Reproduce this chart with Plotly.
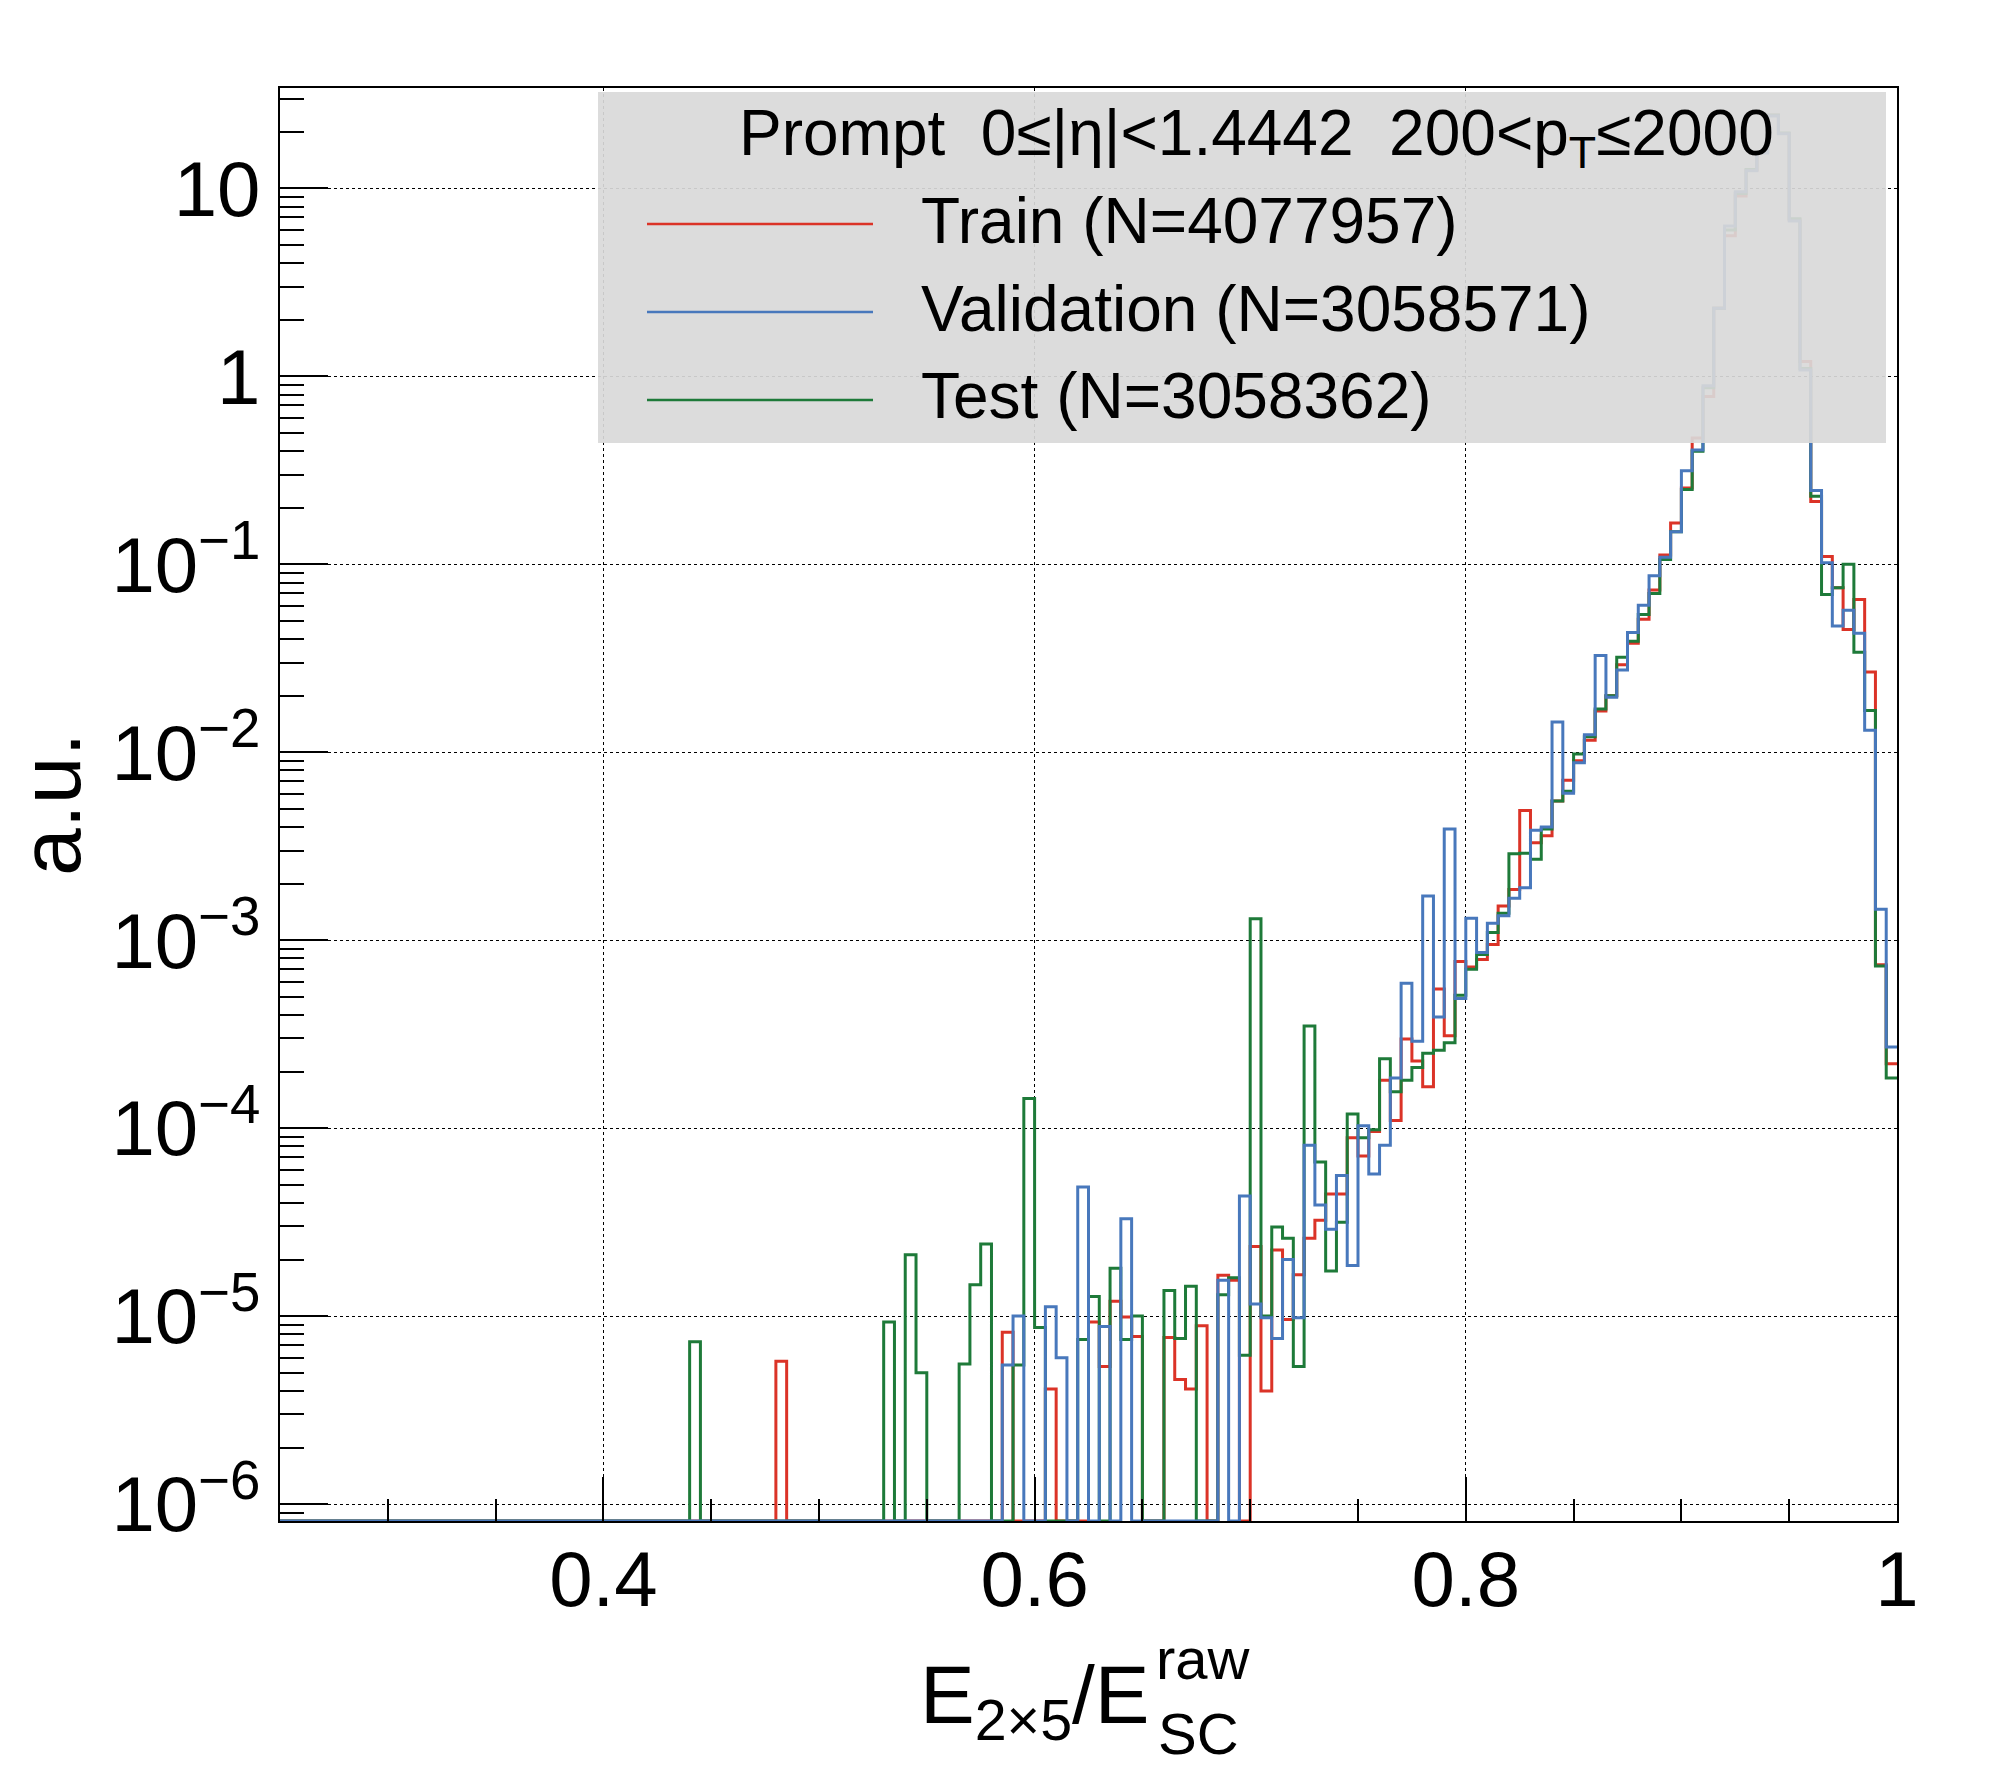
import plotly.graph_objects as go

# histogram binning: 150 bins of 0.005 between 0.25 and 1.0
x_lo = 0.25
bin_w = 0.005
n_bins = 150

# bin contents (a.u.), index 0 is the bin [0.250, 0.255)
train = [
    0, 0, 0, 0, 0, 0, 0, 0, 0, 0,
    0, 0, 0, 0, 0, 0, 0, 0, 0, 0,
    0, 0, 0, 0, 0, 0, 0, 0, 0, 0,
    0, 0, 0, 0, 0, 0, 0, 0, 0, 0,
    0, 0, 0, 0, 0, 0, 5.75e-6, 0, 0, 0,
    0, 0, 0, 0, 0, 0, 0, 0, 0, 0,
    0, 0, 0, 0, 0, 0, 0, 8.2e-6, 0, 0,
    0, 4.1e-6, 0, 0, 0, 9.3e-6, 5.4e-6, 1.2e-5, 9.9e-6, 7.8e-6,
    0, 0, 7.7e-6, 4.6e-6, 4.1e-6, 8.9e-6, 0, 1.65e-5, 1.55e-5, 0,
    2.35e-5, 4.0e-6, 2.25e-5, 9.6e-6, 1.66e-5, 2.6e-5, 3.24e-5, 4.46e-5, 4.46e-5, 8.9e-5,
    7.1e-5, 9.6e-5, 1.8e-4, 1.1e-4, 2.98e-4, 2.28e-4, 1.66e-4, 5.5e-4, 3.1e-4, 7.7e-4,
    7.2e-4, 7.9e-4, 9.5e-4, 1.52e-3, 1.86e-3, 4.9e-3, 3.3e-3, 3.6e-3, 5.5e-3, 7.1e-3,
    9.0e-3, 1.16e-2, 1.66e-2, 2.0e-2, 2.92e-2, 3.8e-2, 5.1e-2, 7.3e-2, 0.112, 0.166,
    0.255, 0.47, 0.78, 2.3, 5.6, 9.1, 12.5, 15.5, 24.5, 19.6,
    6.8, 1.2, 0.216, 0.11, 0.075, 0.045, 0.065, 0.0267, 7.4e-4, 2.2e-4,
]

validation = [
    0, 0, 0, 0, 0, 0, 0, 0, 0, 0,
    0, 0, 0, 0, 0, 0, 0, 0, 0, 0,
    0, 0, 0, 0, 0, 0, 0, 0, 0, 0,
    0, 0, 0, 0, 0, 0, 0, 0, 0, 0,
    0, 0, 0, 0, 0, 0, 0, 0, 0, 0,
    0, 0, 0, 0, 0, 0, 0, 0, 0, 0,
    0, 0, 0, 0, 0, 0, 0, 5.5e-6, 1.0e-5, 0,
    0, 1.12e-5, 6.0e-6, 0, 4.87e-5, 0, 8.8e-6, 0, 3.3e-5, 0,
    0, 0, 0, 0, 0, 0, 0, 1.55e-5, 0, 4.35e-5,
    1.16e-5, 9.8e-6, 7.6e-6, 2.0e-5, 9.8e-6, 8.1e-5, 3.9e-5, 2.9e-5, 5.6e-5, 1.86e-5,
    1.03e-4, 5.7e-5, 8.1e-5, 1.85e-4, 5.9e-4, 2.9e-4, 1.72e-3, 3.9e-4, 3.9e-3, 4.9e-4,
    1.31e-3, 8.6e-4, 1.23e-3, 1.35e-3, 1.67e-3, 1.9e-3, 3.85e-3, 4.0e-3, 1.45e-2, 6.05e-3,
    8.8e-3, 1.24e-2, 3.27e-2, 1.96e-2, 2.74e-2, 4.34e-2, 6.05e-2, 8.7e-2, 0.109, 0.149,
    0.315, 0.405, 0.89, 2.3, 6.3, 9.6, 12.4, 15.4, 24.3, 19.5,
    6.7, 1.08, 0.247, 0.102, 0.047, 0.057, 0.043, 0.0131, 1.46e-3, 2.7e-4,
]

test = [
    0, 0, 0, 0, 0, 0, 0, 0, 0, 0,
    0, 0, 0, 0, 0, 0, 0, 0, 0, 0,
    0, 0, 0, 0, 0, 0, 0, 0, 0, 0,
    0, 0, 0, 0, 0, 0, 0, 0, 7.3e-6, 0,
    0, 0, 0, 0, 0, 0, 0, 0, 0, 0,
    0, 0, 0, 0, 0, 0, 9.3e-6, 0, 2.12e-5, 5.0e-6,
    0, 0, 0, 5.56e-6, 1.47e-5, 2.42e-5, 0, 0, 5.5e-6, 1.44e-4,
    8.7e-6, 0, 0, 0, 7.5e-6, 1.27e-5, 0, 1.8e-5, 7.5e-6, 1.0e-5,
    0, 0, 1.37e-5, 7.6e-6, 1.44e-5, 0, 0, 1.3e-5, 1.6e-5, 6.2e-6,
    1.3e-3, 1.0e-5, 2.98e-5, 2.6e-5, 5.4e-6, 3.5e-4, 6.6e-5, 1.74e-5, 3.16e-5, 1.19e-4,
    8.9e-5, 9.8e-5, 2.34e-4, 1.56e-4, 1.8e-4, 2.1e-4, 2.5e-4, 2.6e-4, 2.85e-4, 5.1e-4,
    7.0e-4, 8.4e-4, 1.1e-3, 1.39e-3, 2.88e-3, 2.9e-3, 2.7e-3, 3.9e-3, 5.5e-3, 6.2e-3,
    9.8e-3, 1.21e-2, 1.7e-2, 2.0e-2, 3.2e-2, 3.9e-2, 5.4e-2, 7.0e-2, 0.106, 0.149,
    0.25, 0.40, 0.87, 2.3, 6.0, 9.4, 12.6, 15.6, 24.6, 19.7,
    6.9, 1.1, 0.23, 0.069, 0.075, 0.1, 0.034, 0.0167, 7.3e-4, 1.85e-4,
]

labels = ["Train (N=4077957)", "Validation (N=3058571)", "Test (N=3058362)"]
colors = ["#db3327", "#4878bc", "#1e7a39"]

y_tick_vals = [1e-6, 1e-5, 1e-4, 1e-3, 1e-2, 1e-1, 1, 10]
y_tick_text = ["10<sup>\u22126</sup>", "10<sup>\u22125</sup>", "10<sup>\u22124</sup>",
               "10<sup>\u22123</sup>", "10<sup>\u22122</sup>", "10<sup>\u22121</sup>", "1", "10"]
x_tick_vals = [0.4, 0.6, 0.8, 1.0]
x_tick_text = ["0.4", "0.6", "0.8", "1"]

y_min_log = -6.09
y_max_log = 1.534
floor = 10 ** y_min_log

W, H = 1996, 1772
L, R, T, B = 280, 1897, 88, 1521   # plot frame in page pixels
OFF = 8                             # page body margin
FONT = "Liberation Sans, Arial, sans-serif"


def px(x):
    return (x - L) / (R - L)


def py(y):
    return (B - y) / (B - T)


edges = [x_lo + bin_w * i for i in range(n_bins + 1)]

fig = go.Figure()
# draw order: train, test, validation (validation on top)
for idx in [0, 2, 1]:
    vals = [train, validation, test][idx]
    yv = [v if v > 0 else floor for v in vals]
    yv = yv + [yv[-1]]
    fig.add_trace(go.Scatter(x=edges, y=yv, mode="lines", line_shape="hv",
                             line=dict(color=colors[idx], width=3),
                             name=labels[idx], showlegend=False, hoverinfo="skip"))

minor_y = [m * 10.0 ** e for e in range(-7, 2) for m in range(2, 10)]

fig.update_xaxes(range=[0.25, 1.0], tickmode="array", tickvals=x_tick_vals, ticktext=x_tick_text,
                 ticks="inside", ticklen=44, tickwidth=2, tickcolor="black",
                 minor=dict(tick0=0.25, dtick=0.05, ticks="inside", ticklen=22, tickwidth=2,
                            tickcolor="black", showgrid=False),
                 showgrid=True, gridcolor="black", griddash="dot", gridwidth=1,
                 showline=True, linecolor="black", linewidth=2, mirror=True, zeroline=False,
                 tickfont=dict(family=FONT, size=78, color="black"), ticklabelstandoff=-11)
fig.update_yaxes(type="log", range=[y_min_log, y_max_log], tickmode="array",
                 tickvals=y_tick_vals, ticktext=y_tick_text,
                 ticks="inside", ticklen=48, tickwidth=2, tickcolor="black",
                 minor=dict(tickmode="array", tickvals=minor_y, ticks="inside", ticklen=24,
                            tickwidth=2, tickcolor="black", showgrid=False),
                 showgrid=True, gridcolor="black", griddash="dot", gridwidth=1,
                 showline=True, linecolor="black", linewidth=2, mirror=True, zeroline=False,
                 tickfont=dict(family=FONT, size=78, color="black"), ticklabelstandoff=2)

shapes = [dict(type="rect", xref="paper", yref="paper", x0=px(598), x1=px(1886), y0=py(443), y1=py(92),
               fillcolor="rgba(217,217,217,0.92)", line=dict(width=0), layer="above")]
entry_y = [224, 312, 400]
for i in range(3):
    shapes.append(dict(type="line", xref="paper", yref="paper", x0=px(647), x1=px(873),
                       y0=py(entry_y[i]), y1=py(entry_y[i]),
                       line=dict(color=colors[i], width=2.5), layer="above"))

annotations = [
    dict(text="Prompt\u00a0\u00a00\u2264|\u03b7|<1.4442\u00a0\u00a0200<p<sub>T</sub>\u22642000",
         x=px(1256), y=py(137), xanchor="center", yanchor="middle",
         font=dict(family=FONT, size=64, color="black")),
]
text_y = [221, 309, 396]
for i in range(3):
    annotations.append(dict(text=labels[i], x=px(919), y=py(text_y[i]), xanchor="left", yanchor="middle",
                            font=dict(family=FONT, size=64, color="black")))

# axis titles
annotations += [
    dict(text="E<sub>2\u00d75</sub>/E", x=px(918), y=py(1700), xanchor="left", yanchor="middle",
         font=dict(family=FONT, size=82, color="black")),
    dict(text="raw", x=px(1154), y=py(1658), xanchor="left", yanchor="middle",
         font=dict(family=FONT, size=58, color="black")),
    dict(text="SC", x=px(1156), y=py(1733), xanchor="left", yanchor="middle",
         font=dict(family=FONT, size=58, color="black")),
    dict(text="a.u.", x=px(50), y=py(804), xanchor="center", yanchor="middle", textangle=-90,
         font=dict(family=FONT, size=86, color="black")),
]
for a in annotations:
    a.update(xref="paper", yref="paper", showarrow=False)

fig.update_layout(width=W, height=H,
                  margin=dict(l=L - OFF, r=W - R + OFF, t=T - OFF, b=H - B + OFF),
                  paper_bgcolor="white", plot_bgcolor="white",
                  shapes=shapes, annotations=annotations, showlegend=False)

fig.write_html("out.html")
